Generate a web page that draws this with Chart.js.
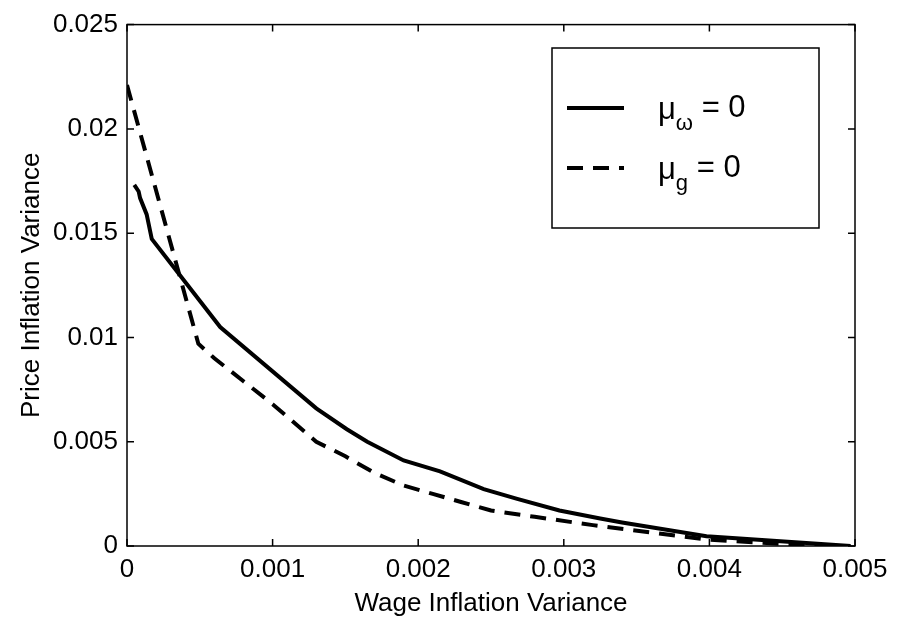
<!DOCTYPE html>
<html>
<head>
<meta charset="utf-8">
<script src="https://cdn.jsdelivr.net/npm/chart.js@4.4.1/dist/chart.umd.min.js"></script>
<style>
  html, body { margin: 0; padding: 0; background: #fff; }
  #wrap { width: 913px; height: 621px; position: relative; }
</style>
</head>
<body>
<div id="wrap"><canvas id="chart"></canvas></div>
<script>
// ─── Data ─────────────────────────────────────────────

const solidX = [0.00005, 0.00008, 0.00009, 0.000135, 0.00017, 0.00064, 0.0013, 0.00151, 0.00165, 0.0019, 0.00215, 0.00245, 0.00268, 0.00297, 0.00325, 0.0034, 0.00398, 0.00497];
const solidY = [0.01731, 0.0170, 0.01668, 0.0159, 0.01472, 0.0105, 0.0066, 0.0056, 0.0050, 0.0041, 0.00358, 0.00273, 0.00226, 0.0017, 0.00132, 0.00113, 0.00047, 0.0];

const dashedX = [0.0, 0.00049, 0.0006, 0.0008, 0.001, 0.0013, 0.0015, 0.0017, 0.0019, 0.0021, 0.0023, 0.0025, 0.0028, 0.0032, 0.0036, 0.004, 0.0045, 0.0049];
const dashedY = [0.0221, 0.0097, 0.0090, 0.0079, 0.0068, 0.0050, 0.0043, 0.0035, 0.0029, 0.0025, 0.0021, 0.0017, 0.0014, 0.0010, 0.00065, 0.0003, 0.0001, 0.0];

// legend labels: [symbol, subscript, rest]
const solidLabel  = ['μ', 'ω', ' = 0'];
const dashedLabel = ['μ', 'g', ' = 0'];

const xTickValues = [0, 0.001, 0.002, 0.003, 0.004, 0.005];
const xTickLabels = ['0', '0.001', '0.002', '0.003', '0.004', '0.005'];
const yTickValues = [0, 0.005, 0.01, 0.015, 0.02, 0.025];
const yTickLabels = ['0', '0.005', '0.01', '0.015', '0.02', '0.025'];

const xTitle = 'Wage Inflation Variance';
const yTitle = 'Price Inflation Variance';

// ─── Helpers ──────────────────────────────────────────

const FONT = "'Liberation Sans', Arial, Helvetica, sans-serif";

function toPoints(xs, ys) {
    return xs.map((x, i) => ({ x, y: ys[i] }));
}

// Box round the plot area with inward ticks on all four sides
const boxPlugin = {
    id: 'box',
    afterDatasetsDraw(chart) {
        const { ctx, chartArea: a, scales: { x, y } } = chart;
        const len = 7;
        ctx.save();
        ctx.strokeStyle = '#000';
        ctx.lineWidth = 1.5;
        ctx.strokeRect(a.left, a.top, a.right - a.left, a.bottom - a.top);
        ctx.beginPath();
        x.ticks.forEach(t => {
            const px = x.getPixelForValue(t.value);
            ctx.moveTo(px, a.bottom); ctx.lineTo(px, a.bottom - len);
            ctx.moveTo(px, a.top);    ctx.lineTo(px, a.top + len);
        });
        y.ticks.forEach(t => {
            const py = y.getPixelForValue(t.value);
            ctx.moveTo(a.left, py);  ctx.lineTo(a.left + len, py);
            ctx.moveTo(a.right, py); ctx.lineTo(a.right - len, py);
        });
        ctx.stroke();
        ctx.restore();
    },
};

// MATLAB-like legend box with subscripted labels
const legendPlugin = {
    id: 'subLegend',
    afterDraw(chart) {
        const { ctx } = chart;
        const box = { left: 552, top: 48, right: 819, bottom: 228 };
        const rows = [
            { y: 108, ds: chart.data.datasets[0], label: solidLabel },
            { y: 168, ds: chart.data.datasets[1], label: dashedLabel },
        ];
        ctx.save();
        ctx.fillStyle = '#fff';
        ctx.fillRect(box.left, box.top, box.right - box.left, box.bottom - box.top);
        ctx.strokeStyle = '#000';
        ctx.lineWidth = 1.5;
        ctx.strokeRect(box.left, box.top, box.right - box.left, box.bottom - box.top);

        rows.forEach(r => {
            ctx.beginPath();
            ctx.lineWidth = r.ds.borderWidth;
            ctx.setLineDash(r.ds.borderDash || []);
            ctx.moveTo(567, r.y);
            ctx.lineTo(624, r.y);
            ctx.stroke();
            ctx.setLineDash([]);

            const [sym, sub, rest] = r.label;
            ctx.fillStyle = '#000';
            ctx.textBaseline = 'middle';
            ctx.textAlign = 'left';
            let cx = 658;
            ctx.font = `31px ${FONT}`;
            ctx.fillText(sym, cx, r.y + 2);
            cx += ctx.measureText(sym).width;
            ctx.font = `22px ${FONT}`;
            ctx.fillText(sub, cx, r.y + 16);
            cx += ctx.measureText(sub).width;
            ctx.font = `31px ${FONT}`;
            ctx.fillText(rest, cx, r.y);
        });
        ctx.restore();
    },
};

// ─── Chart ────────────────────────────────────────────

new Chart(document.getElementById('chart').getContext('2d'), {
    type: 'scatter',
    data: {
        datasets: [
            {
                data: toPoints(solidX, solidY),
                showLine: true,
                borderColor: '#000',
                borderWidth: 4,
                pointRadius: 0,
                tension: 0,
            },
            {
                data: toPoints(dashedX, dashedY),
                showLine: true,
                borderColor: '#000',
                borderWidth: 4,
                borderDash: [16, 10],
                pointRadius: 0,
                tension: 0,
            },
        ],
    },
    options: {
        responsive: true,
        maintainAspectRatio: false,
        animation: false,
        layout: { padding: { left: 0, top: 15, right: 58, bottom: 0 } },
        plugins: {
            legend:  { display: false },
            tooltip: { enabled: false },
        },
        scales: {
            x: {
                type: 'linear',
                min: 0,
                max: 0.005,
                afterBuildTicks: s => { s.ticks = xTickValues.map(v => ({ value: v })); },
                afterFit: s => { s.height = 75; },
                grid:   { display: false, drawTicks: false },
                border: { display: false },
                ticks:  {
                    color: '#000',
                    font: { family: FONT, size: 26 },
                    padding: 8,
                    maxRotation: 0,
                    callback: (v, i) => xTickLabels[i],
                },
                title: {
                    display: true,
                    text: xTitle,
                    color: '#000',
                    font: { family: FONT, size: 26 },
                    padding: { top: 0, bottom: 2 },
                },
            },
            y: {
                type: 'linear',
                min: 0,
                max: 0.025,
                afterBuildTicks: s => { s.ticks = yTickValues.map(v => ({ value: v })); },
                afterFit: s => { s.width = 127; },
                grid:   { display: false, drawTicks: false },
                border: { display: false },
                ticks:  {
                    color: '#000',
                    font: { family: FONT, size: 26 },
                    padding: 9,
                    callback: (v, i) => yTickLabels[i],
                },
                title: {
                    display: true,
                    text: yTitle,
                    color: '#000',
                    font: { family: FONT, size: 26 },
                    padding: { top: 16, bottom: 0 },
                },
            },
        },
    },
    plugins: [boxPlugin, legendPlugin],
});
</script>
</body>
</html>
